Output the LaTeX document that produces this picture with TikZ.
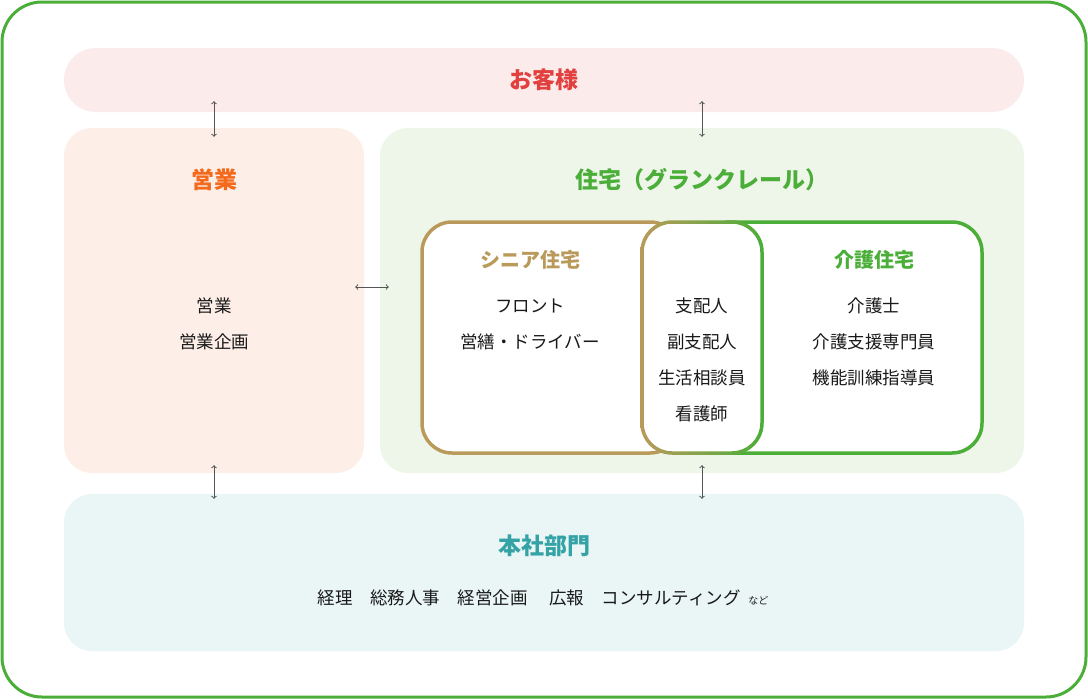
\documentclass[tikz,border=0pt]{standalone}
\usepackage{fontspec}
\setmainfont{Noto Sans CJK JP}
\usetikzlibrary{positioning}

\definecolor{frameGreen}{HTML}{4AAE38}
\definecolor{kyakuRed}{HTML}{E2403F}
\definecolor{kyakuFill}{HTML}{FBEBEA}
\definecolor{eigyoOrange}{HTML}{F36A1D}
\definecolor{eigyoFill}{HTML}{FDEEE7}
\definecolor{jutakuFill}{HTML}{EEF6EA}
\definecolor{seniorBrown}{HTML}{B99A5B}
\definecolor{honshaTeal}{HTML}{35A3A5}
\definecolor{honshaFill}{HTML}{EAF6F6}
\definecolor{arrGray}{HTML}{555555}

\tikzset{
  area/.style={draw=none,inner sep=0pt,rounded corners=28pt},
  title/.style={font=\fontsize{23}{27}\selectfont\bfseries},
  subtitle/.style={font=\fontsize{20}{24}\selectfont\bfseries},
  itemtxt/.style={font=\fontsize{17.5}{36}\selectfont,text=black!90,align=center,inner sep=0pt},
  biarr/.style={<->,draw=arrGray,line width=1pt}
}

\begin{document}
\begin{tikzpicture}[x=1pt,y=-1pt]
  \useasboundingbox (0,0) rectangle (1088,699);
  % outer frame
  \draw[frameGreen,line width=3pt,rounded corners=40pt] (2,2) rectangle (1086,697);

  % areas
  \node[area,fill=kyakuFill,minimum width=960pt,minimum height=64pt,rounded corners=32pt] (kyaku) at (544,80) {};
  \node[area,fill=eigyoFill,minimum width=300pt,minimum height=345pt] (eigyo) at (214,300.5) {};
  \node[area,fill=jutakuFill,minimum width=644pt,minimum height=345pt] (jutaku) at (702,300.5) {};
  \node[area,fill=honshaFill,minimum width=960pt,minimum height=157pt] (honsha) at (544,572.5) {};

  % titles
  \node[title,text=kyakuRed] (kyakuT) at (kyaku) {お客様};
  \node[title,text=eigyoOrange] (eigyoT) at (214,180) {営業};
  \node[title,text=frameGreen] (jutakuT) at (702,180) {住宅（グランクレール）};
  \node[title,text=honshaTeal] (honshaT) at (544,546) {本社部門};

  % housing boxes
  \draw[seniorBrown,line width=3.5pt,fill=white,rounded corners=30pt] (422,222) rectangle (680,453);
  \draw[frameGreen,line width=3.5pt,fill=white,rounded corners=30pt] (700,222) rectangle (982,453);
  \fill[white,rounded corners=30pt] (642,222) rectangle (762,453);
  \shade[left color=seniorBrown,right color=frameGreen,even odd rule]
    [rounded corners=31.75pt] (640.25,220.25) rectangle (763.75,454.75)
    [rounded corners=28.25pt] (643.75,223.75) rectangle (760.25,451.25);

  \node[subtitle,text=seniorBrown] (seniorT) at (530,260) {シニア住宅};
  \node[subtitle,text=frameGreen] (kaigoT) at (874,260) {介護住宅};

  % staff
  \node[itemtxt] (eigyoL) at (214,324) {営業\\営業企画};
  \node[itemtxt] (seniorL) at (530,324) {フロント\\営繕・ドライバー};
  \node[itemtxt] (kyotsuL) at (702,360) {支配人\\副支配人\\生活相談員\\看護師};
  \node[itemtxt] (kaigoL) at (874,342) {介護士\\介護支援専門員\\機能訓練指導員};
  \node[itemtxt] (honshaL) at (543,598) {経理\quad 総務人事\quad 経営企画\quad\ 広報\quad コンサルティング\ \ {\fontsize{10}{12}\selectfont など}};

  % arrows
  \draw[biarr] ([yshift=11pt]kyaku.south -| eigyo.north) -- ([yshift=-9pt]eigyo.north);
  \draw[biarr] ([yshift=11pt]kyaku.south -| jutaku.north) -- ([yshift=-9pt]jutaku.north);
  \draw[biarr] ([xshift=-9pt,yshift=13.5pt]eigyo.east) -- ([xshift=9pt,yshift=13.5pt]jutaku.west);
  \draw[biarr] ([yshift=8pt]eigyo.south) -- ([yshift=-5pt]honsha.north -| eigyo.south);
  \draw[biarr] ([yshift=8pt]jutaku.south) -- ([yshift=-5pt]honsha.north -| jutaku.south);
\end{tikzpicture}
\end{document}
